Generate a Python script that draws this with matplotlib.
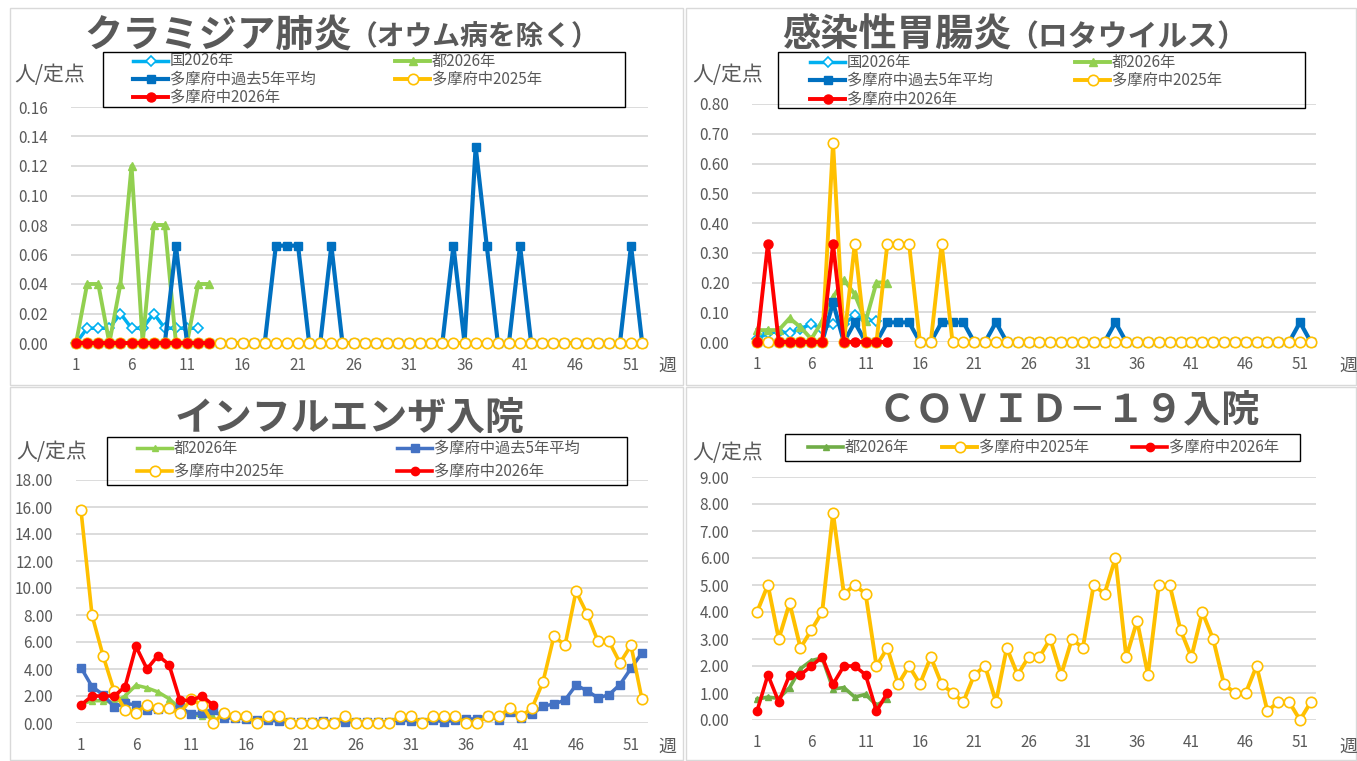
import numpy as np
import matplotlib.pyplot as plt
from matplotlib.lines import Line2D
from matplotlib.patches import Rectangle

plt.rcParams['font.family'] = ['Noto Sans CJK JP', 'DejaVu Sans']

W, H = 1357, 761
GRAY = '#595959'

# colours
C_KUNI = '#00B0F0'
C_TO = '#92D050'
C_TO4 = '#70AD47'
C_AVG = '#0070C0'
C_AVG3 = '#4472C4'
C_2025 = '#FFC000'
C_2026 = '#FF0000'

weeks = np.arange(1, 53)
xticks = [1, 6, 11, 16, 21, 26, 31, 36, 41, 46, 51]

# ---- クラミジア肺炎 ----
chl_kuni = [0, 0.01, 0.01, 0.01, 0.02, 0.01, 0.01, 0.02, 0.01, 0.01, 0.01, 0.01]
chl_to = [0, 0.04, 0.04, 0, 0.04, 0.12, 0, 0.08, 0.08, 0, 0, 0.04, 0.04]
chl_avg5 = [0, 0, 0, 0, 0, 0, 0, 0, 0, 0.066, 0, 0, 0, 0, 0, 0, 0, 0, 0.066, 0.066,
            0.066, 0, 0, 0.066, 0, 0, 0, 0, 0, 0, 0, 0, 0, 0, 0.066, 0, 0.133, 0.066,
            0, 0, 0.066, 0, 0, 0, 0, 0, 0, 0, 0, 0, 0.066, 0]
chl_2025 = [0] * 52
chl_2026 = [0] * 13

# ---- 感染性胃腸炎（ロタウイルス） ----
rota_kuni = [0.01, 0.03, 0.035, 0.03, 0.045, 0.06, 0.045, 0.06, 0.06, 0.09, 0.075, 0.07]
rota_to = [0.04, 0.04, 0.04, 0.08, 0.05, 0.01, 0.07, 0.15, 0.21, 0.16, 0.07, 0.20, 0.20]
rota_avg5 = [0, 0, 0, 0, 0, 0, 0, 0.133, 0, 0.066, 0, 0, 0.066, 0.066, 0.066, 0, 0,
             0.066, 0.066, 0.066, 0, 0, 0.066, 0, 0, 0, 0, 0, 0, 0, 0, 0, 0, 0.066, 0,
             0, 0, 0, 0, 0, 0, 0, 0, 0, 0, 0, 0, 0, 0, 0, 0.066, 0]
rota_2025 = [0, 0, 0, 0, 0, 0, 0, 0.67, 0, 0.33, 0, 0, 0.33, 0.33, 0.33, 0, 0, 0.33,
             0, 0, 0, 0, 0, 0, 0, 0, 0, 0, 0, 0, 0, 0, 0, 0, 0, 0, 0, 0, 0, 0, 0, 0,
             0, 0, 0, 0, 0, 0, 0, 0, 0, 0]
rota_2026 = [0, 0.33, 0, 0, 0, 0, 0, 0.33, 0, 0, 0, 0, 0]

# ---- インフルエンザ入院 ----
flu_to = [1.4, 1.65, 1.65, 1.5, 2.0, 2.8, 2.6, 2.3, 1.8, 1.1, 0.65, 0.5, 0.45]
flu_avg5 = [4.1, 2.7, 2.1, 1.2, 1.45, 1.35, 1.0, 1.05, 1.1, 1.2, 0.65, 0.75, 1.0, 0.35,
            0.4, 0.3, 0.2, 0.25, 0.12, 0.05, 0.05, 0.1, 0.15, 0.1, 0.1, 0.05, 0.05, 0.05,
            0.1, 0.25, 0.15, 0.05, 0.2, 0.1, 0.2, 0.3, 0.3, 0.55, 0.25, 0.8, 0.4, 0.65,
            1.25, 1.4, 1.7, 2.8, 2.4, 1.85, 2.1, 2.85, 4.05, 5.2]
flu_2025 = [15.75, 8.0, 5.0, 2.4, 1.0, 0.75, 1.35, 1.1, 1.1, 0.75, 1.75, 1.35, 0, 0.75,
            0.5, 0.5, 0, 0.5, 0.5, 0, 0, 0, 0, 0, 0.5, 0, 0, 0, 0, 0.5, 0.5, 0, 0.5,
            0.5, 0.5, 0, 0, 0.5, 0.5, 1.1, 0.5, 1.1, 3.05, 6.45, 5.75, 9.75, 8.1, 6.05,
            6.05, 4.45, 5.75, 1.75]
flu_2026 = [1.33, 2.0, 2.0, 2.0, 2.67, 5.67, 4.0, 5.0, 4.33, 1.67, 1.67, 2.0, 1.33]

# ---- COVID-19入院 ----
cov_to = [0.77, 0.85, 0.8, 1.2, 1.9, 2.2, 2.3, 1.15, 1.2, 0.85, 0.95, 0.55, 0.77]
cov_2025 = [4.0, 5.0, 3.0, 4.33, 2.67, 3.33, 4.0, 7.67, 4.67, 5.0, 4.67, 2.0, 2.67, 1.33,
            2.0, 1.33, 2.33, 1.33, 1.0, 0.67, 1.67, 2.0, 0.67, 2.67, 1.67, 2.33, 2.33,
            3.0, 1.67, 3.0, 2.67, 5.0, 4.67, 6.0, 2.33, 3.67, 1.67, 5.0, 5.0, 3.33, 2.33,
            4.0, 3.0, 1.33, 1.0, 1.0, 2.0, 0.33, 0.67, 0.67, 0.0, 0.67]
cov_2026 = [0.33, 1.67, 0.67, 1.67, 1.67, 2.0, 2.33, 1.33, 2.0, 2.0, 1.67, 0.33, 1.0]


def fx(x):
    return x / W


def fy(y):
    return 1 - y / H


fig = plt.figure(figsize=(W / 100, H / 100), dpi=100)

# chart area frames
for (x0, y0, x1, y1) in [(10, 8, 683, 385), (686, 8, 1356, 385),
                         (10, 387, 683, 760), (686, 387, 1356, 760)]:
    fig.add_artist(Rectangle((fx(x0), fy(y1)), fx(x1) - fx(x0), fy(y0) - fy(y1),
                             transform=fig.transFigure, fill=False,
                             edgecolor='#D9D9D9', lw=1))

# series styles
S_KUNI = dict(color=C_KUNI, marker='D', ms=5, mfc='white', mec=C_KUNI, mew=1.2, lw=2.5)
S_TO = dict(color=C_TO, marker='^', ms=5.5, mfc=C_TO, mec=C_TO, lw=2.8)
S_AVG = dict(color=C_AVG, marker='s', ms=5.5, mfc=C_AVG, mec=C_AVG, lw=3.0)
S_2025 = dict(color=C_2025, marker='o', ms=7.5, mfc='white', mec=C_2025, mew=1.2, lw=2.8)
S_2026 = dict(color=C_2026, marker='o', ms=6.5, mfc=C_2026, mec=C_2026, lw=2.8)


def make_axes(left, right, top, bottom, ymax, ystep):
    ax = fig.add_axes([fx(left), fy(bottom), fx(right) - fx(left), fy(top) - fy(bottom)])
    ax.set_xlim(0.5, 52.5)
    ax.set_ylim(0, ymax)
    ax.set_yticks(np.arange(0, ymax + ystep / 2, ystep))
    ax.yaxis.set_major_formatter(plt.FormatStrFormatter('%.2f'))
    ax.set_xticks(xticks)
    ax.tick_params(length=0, labelsize=11, colors=GRAY)
    ax.tick_params(axis='y', pad=16)
    ax.tick_params(axis='x', pad=10)
    for sp in ax.spines.values():
        sp.set_visible(False)
    ax.yaxis.grid(True, color='#D9D9D9', lw=1.3)
    ax.set_axisbelow(True)
    ax.patch.set_alpha(0)
    return ax


def plot(ax, vals, style, z):
    ax.plot(weeks[:len(vals)], vals, clip_on=False, zorder=z, **style)


def legend(box, items):
    x0, y0, x1, y1 = box
    fig.add_artist(Rectangle((fx(x0), fy(y1)), fx(x1) - fx(x0), fy(y0) - fy(y1),
                             transform=fig.transFigure, fill=False,
                             edgecolor='black', lw=1, zorder=10))
    for label, style, hx, y in items:
        st = dict(style)
        fig.add_artist(Line2D([fx(hx), fx(hx + 35)], [fy(y), fy(y)],
                              transform=fig.transFigure, color=st['color'],
                              lw=st['lw'], zorder=11))
        fig.add_artist(Line2D([fx(hx + 17.5)], [fy(y)], transform=fig.transFigure,
                              marker=st['marker'], ms=st['ms'], mfc=st['mfc'],
                              mec=st['mec'], mew=st.get('mew', 1), zorder=12))
        fig.text(fx(hx + 37), fy(y), label, fontsize=11, color=GRAY,
                 ha='left', va='center')


def labels(ylab_x, ylab_y, wk_x, wk_y):
    fig.text(fx(ylab_x), fy(ylab_y), '人/定点', fontsize=15, color=GRAY,
             ha='left', va='center')
    fig.text(fx(wk_x), fy(wk_y), '週', fontsize=13, color=GRAY,
             ha='center', va='center')


# ---------- panel 1 ----------
ax1 = make_axes(70.5, 647.7, 107, 343, 0.16, 0.02)
plot(ax1, chl_kuni, S_KUNI, 3)
plot(ax1, chl_to, S_TO, 4)
plot(ax1, chl_avg5, S_AVG, 5)
plot(ax1, chl_2025, S_2025, 6)
plot(ax1, chl_2026, S_2026, 7)
fig.text(fx(84), fy(35), 'クラミジア肺炎', fontsize=27.5, fontweight='bold',
         color=GRAY, ha='left', va='center')
fig.text(fx(350), fy(37), '（オウム病を除く）', fontsize=20, fontweight='bold',
         color=GRAY, ha='left', va='center')
labels(14, 75, 667, 366)
legend((103, 52, 625, 107), [
    ('国2026年', S_KUNI, 133, 61),
    ('多摩府中過去5年平均', S_AVG, 133, 79),
    ('多摩府中2026年', S_2026, 133, 97),
    ('都2026年', S_TO, 395, 61),
    ('多摩府中2025年', S_2025, 395, 79),
])

# ---------- panel 2 ----------
ax2 = make_axes(751.6, 1316.3, 104, 342, 0.80, 0.10)
plot(ax2, rota_kuni, S_KUNI, 3)
plot(ax2, rota_to, S_TO, 4)
plot(ax2, rota_avg5, S_AVG, 5)
plot(ax2, rota_2025, S_2025, 6)
plot(ax2, rota_2026, S_2026, 7)
fig.text(fx(782), fy(35), '感染性胃腸炎', fontsize=27.5, fontweight='bold',
         color=GRAY, ha='left', va='center')
fig.text(fx(1008), fy(37), '（ロタウイルス）', fontsize=21.5, fontweight='bold',
         color=GRAY, ha='left', va='center')
labels(692, 75, 1348, 366)
legend((778, 52, 1305, 108), [
    ('国2026年', S_KUNI, 810, 62),
    ('多摩府中過去5年平均', S_AVG, 810, 80),
    ('多摩府中2026年', S_2026, 810, 99),
    ('都2026年', S_TO, 1075, 62),
    ('多摩府中2025年', S_2025, 1075, 80),
])

# ---------- panel 3 ----------
S3_TO = dict(S_TO, lw=2.5, ms=5)
S3_AVG = dict(S_AVG, color=C_AVG3, mfc=C_AVG3, mec=C_AVG3, lw=2.5, ms=5.5)
S3_2025 = dict(S_2025, lw=2.6, ms=7.5)
S3_2026 = dict(S_2026, lw=2.6, ms=6)
ax3 = make_axes(75.5, 647.5, 480, 723, 18, 2)
plot(ax3, flu_to, S3_TO, 4)
plot(ax3, flu_avg5, S3_AVG, 5)
plot(ax3, flu_2025, S3_2025, 6)
plot(ax3, flu_2026, S3_2026, 7)
fig.text(fx(350), fy(418), 'インフルエンザ入院', fontsize=28, fontweight='bold',
         color=GRAY, ha='center', va='center')
labels(16, 452, 667, 747)
legend((107, 437, 627, 485), [
    ('都2026年', S3_TO, 137, 448),
    ('多摩府中2025年', S3_2025, 137, 471),
    ('多摩府中過去5年平均', S3_AVG, 397, 448),
    ('多摩府中2026年', S3_2026, 397, 471),
])

# ---------- panel 4 ----------
S4_TO = dict(S_TO, color=C_TO4, mfc=C_TO4, mec=C_TO4, lw=2.6, ms=5)
S4_2025 = dict(S_2025, lw=2.8, ms=7.5)
S4_2026 = dict(S_2026, lw=2.6, ms=6)
ax4 = make_axes(751.6, 1316.3, 477, 720, 9, 1)
plot(ax4, cov_to, S4_TO, 4)
plot(ax4, cov_2025, S4_2025, 6)
plot(ax4, cov_2026, S4_2026, 7)
fig.text(fx(1069), fy(410), 'ＣＯＶＩＤ－１９入院', fontsize=27.5, fontweight='bold',
         color=GRAY, ha='center', va='center')
labels(692, 453, 1348, 747)
legend((785, 434, 1300, 461), [
    ('都2026年', S4_TO, 808, 447),
    ('多摩府中2025年', S4_2025, 942, 447),
    ('多摩府中2026年', S4_2026, 1132, 447),
])

fig.savefig('out.png', dpi=100)
